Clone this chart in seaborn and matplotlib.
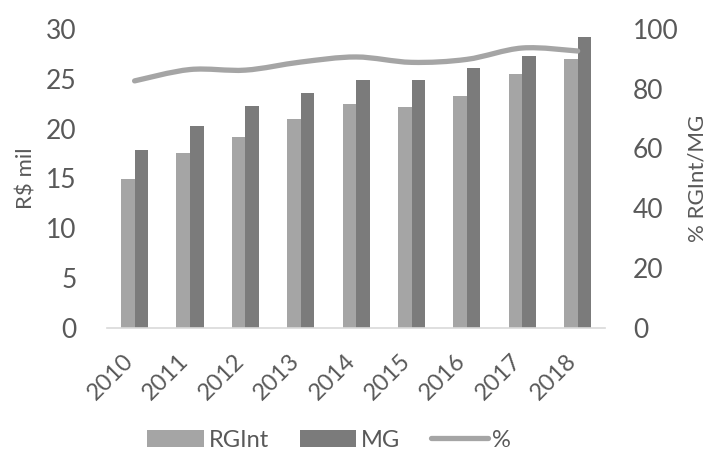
import numpy as np
import pandas as pd
import matplotlib
matplotlib.use("Agg")
import matplotlib.pyplot as plt
from matplotlib.path import Path
from matplotlib.patches import PathPatch
from matplotlib.lines import Line2D
import seaborn as sns

years = ["2010", "2011", "2012", "2013", "2014", "2015", "2016", "2017", "2018"]
rgint = [14.9, 17.5, 19.2, 21.0, 22.5, 22.2, 23.3, 25.5, 27.0]
mg = [17.8, 20.3, 22.3, 23.6, 24.9, 24.9, 26.1, 27.3, 29.2]
pct = [82.6, 86.4, 86.2, 88.9, 90.6, 88.8, 89.8, 93.6, 92.6]

left_ticks = [0, 5, 10, 15, 20, 25, 30]
right_ticks = [0, 20, 40, 60, 80, 100]

sns.set_theme(style="white")
plt.rcParams["font.family"] = ["Lato", "DejaVu Sans"]
text_col = "#595959"
light = "#a5a5a5"
dark = "#7b7b7b"

df = pd.DataFrame({
    "ano": years * 2,
    "valor": rgint + mg,
    "serie": ["RGInt"] * len(years) + ["MG"] * len(years),
})

fig = plt.figure(figsize=(7.08, 4.51), dpi=100)
ax = fig.add_axes([0.151, 0.273, 0.704, 0.663])

sns.barplot(data=df, x="ano", y="valor", hue="serie", order=years,
            hue_order=["RGInt", "MG"], palette=[light, dark],
            width=0.49, gap=0, saturation=1, ax=ax, legend=True,
            edgecolor="none", linewidth=0)
ax.set_ylim(0, 30)
ax.set_yticks(left_ticks)
ax.set_xlim(-0.5, len(years) - 0.5)
ax.set_xlabel("")
ax.set_ylabel("R$ mil", fontsize=16, color=text_col, labelpad=7)
ax.tick_params(axis="y", length=0, pad=22, labelsize=19, labelcolor=text_col)
ax.tick_params(axis="x", length=0, pad=25, labelsize=17, labelcolor=text_col)
for lbl in ax.get_xticklabels():
    lbl.set_rotation(45)
    lbl.set_ha("right")
    lbl.set_va("baseline")
    lbl.set_rotation_mode("anchor")
for s in ["top", "left", "right"]:
    ax.spines[s].set_visible(False)
ax.spines["bottom"].set_color("#d9d9d9")
ax.spines["bottom"].set_linewidth(1.2)

# Percentage share on the secondary axis, drawn as a smoothed curve
ax2 = ax.twinx()
xs = np.arange(len(years), dtype=float)
ys = np.asarray(pct, dtype=float)
pts = np.column_stack([xs, ys])
verts = [pts[0]]
codes = [Path.MOVETO]
n = len(pts)
for i in range(n - 1):
    p0 = pts[max(i - 1, 0)]
    p1 = pts[i]
    p2 = pts[i + 1]
    p3 = pts[min(i + 2, n - 1)]
    c1 = p1 + (p2 - p0) / 6.0
    c2 = p2 - (p3 - p1) / 6.0
    verts += [c1, c2, p2]
    codes += [Path.CURVE4] * 3
curve = PathPatch(Path(verts, codes), fill=False, edgecolor=light, lw=3.8,
                  capstyle="round", joinstyle="round",
                  transform=ax2.transData)
ax2.add_patch(curve)
ax2.set_ylim(0, 100)
ax2.set_yticks(right_ticks)
ax2.set_ylabel("% RGInt/MG", fontsize=16, color=text_col, labelpad=6)
ax2.tick_params(axis="y", length=0, pad=20, labelsize=19, labelcolor=text_col)
for s in ["top", "left", "right", "bottom"]:
    ax2.spines[s].set_visible(False)

h1, l1 = ax.get_legend_handles_labels()
ax.get_legend().remove()
h2 = [Line2D([], [], color=light, lw=3.8, solid_capstyle="round")]
l2 = ["%"]
fig.legend(h1 + h2, l1 + l2, loc="center", ncol=3, frameon=False,
           bbox_to_anchor=(0.465, 0.024), fontsize=17, labelcolor=text_col,
           handlelength=2.4, handleheight=0.7, handletextpad=0.2,
           columnspacing=1.3)

fig.savefig("out.png", dpi=100)
